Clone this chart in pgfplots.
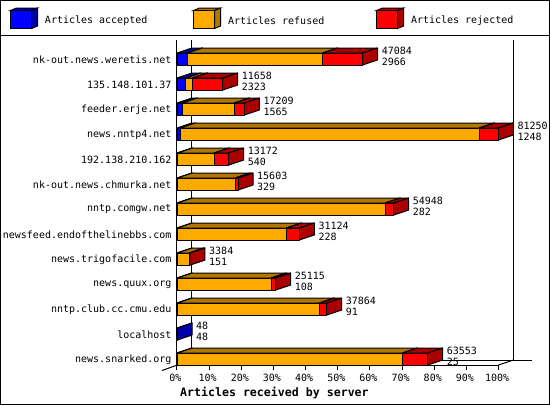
\documentclass[border=0pt]{standalone}
\usepackage{fontspec}
\setmainfont{DejaVu Sans Mono}
\usepackage{pgfplots}
\usepackage{pgfplotstable}
\pgfplotsset{compat=1.18}
\definecolor{cB}{HTML}{0000FF}\definecolor{cBd}{HTML}{0000AA}
\definecolor{cO}{HTML}{FFAA00}\definecolor{cOd}{HTML}{B27700}
\definecolor{cR}{HTML}{FF0000}\definecolor{cRd}{HTML}{AA0000}
% shares of the axis, in percent: accepted, refused, rejected
\pgfplotstableread{
r a b c
0 3.2 42.1 12.4
1 2.7 2.06 9.45
2 1.65 16.17 3.11
3 1.03 92.97 5.9
4 0.2 11.4 4.48
5 0.1 18.03 0.84
6 0.05 64.72 2.61
7 0.05 33.94 4.04
8 0.05 3.77 0.22
9 0.05 29.27 1.37
10 0.05 44.2 2.3
11 0.05 0 0
12 0.05 70.01 7.89
}\data
\newcommand{\seg}[5]{% row, x0, width, top colour, side colour
  \ifdim #3pt>0pt
  \pgfmathsetmacro{\xs}{#2}\pgfmathsetmacro{\xe}{#2+#3}
  \pgfmathsetmacro{\xsb}{\xs+4.664}\pgfmathsetmacro{\xeb}{\xe+4.664}
  \pgfmathsetmacro{\yt}{#1-0.24}\pgfmathsetmacro{\ytb}{#1-0.44}
  \pgfmathsetmacro{\yb}{#1+0.24}\pgfmathsetmacro{\ybb}{#1+0.04}
  \addplot[draw=black,line width=1pt,fill=#4,line join=round] coordinates {(\xs,\yt) (\xe,\yt) (\xeb,\ytb) (\xsb,\ytb)} -- cycle;
  \addplot[draw=black,line width=1pt,fill=#5,line join=round] coordinates {(\xe,\yt) (\xeb,\ytb) (\xeb,\ybb) (\xe,\yb)} -- cycle;
  \fi}
\pgfplotsset{base/.style={
  scale only axis, width=321.6pt, height=325pt,
  xmin=0, xmax=100, ymin=-0.76, ymax=12.24, y dir=reverse,
  clip=false, anchor=south west, at={(177pt,-365pt)}}}
\newcommand{\lab}[3]{\node[anchor=west,inner sep=0pt,yshift=-0.7pt,font=\fontsize{10}{10}\selectfont] at (#1,#2) {#3};}
\newcommand{\lbox}[4]{% x, front, dark
  \filldraw[fill=#3,line width=1pt] (#1,10.5) -- (#1+6,8) -- (#1+27,8) -- (#1+21,10.5) -- cycle;
  \filldraw[fill=#3,line width=1pt] (#1+21,10.5) -- (#1+27,8) -- (#1+27,26) -- (#1+21,28.5) -- cycle;
  \filldraw[fill=#2,line width=1pt] (#1,10.5) rectangle (#1+21,28.5);
  \node[anchor=west,inner sep=0pt,font=\fontsize{10}{10}\selectfont] at (#1+34.3,21) {#4};}
\begin{document}
\begin{tikzpicture}
\begin{scope}[x=1pt,y=-1pt]
\fill[white] (0,0) rectangle (550,405);
\draw[line width=1pt] (0.5,0.5) rectangle (549.5,404.5);
\draw[line width=1pt] (0,35) -- (550,35);
\lbox{10.5}{cB}{cBd}{Articles accepted}
\lbox{193.5}{cO}{cOd}{Articles refused}
\lbox{376.5}{cR}{cRd}{Articles rejected}
% back wall and floor
\draw[line width=1pt] (191.5,40) -- (191.5,360) -- (532,360);
\draw[line width=1pt] (513.5,40) -- (513.5,360);
\draw[line width=1pt] (162,370.5) -- (191.5,360);
\draw[line width=1pt] (498.5,365) -- (513.5,360);
\end{scope}
\begin{axis}[base,
  axis x line=bottom, axis y line=left,
  axis line style={line width=1pt,-},
  xtick={0,10,...,100},
  xticklabels={0\%,10\%,20\%,30\%,40\%,50\%,60\%,70\%,80\%,90\%,100\%},
  ytick={0,...,12},
  yticklabels={nk-out.news.weretis.net,135.148.101.37,feeder.erje.net,news.nntp4.net,192.138.210.162,nk-out.news.chmurka.net,nntp.comgw.net,newsfeed.endofthelinebbs.com,news.trigofacile.com,news.quux.org,nntp.club.cc.cmu.edu,localhost,news.snarked.org},
  tick align=outside, major tick length=5pt,
  xtick style={line width=1pt,black},
  ytick style={draw=none},
  tick label style={font=\fontsize{10}{10}\selectfont},
  xticklabel style={xshift=-1.5pt,yshift=-1pt},
  yticklabel style={xshift=3pt,yshift=-0.5pt},
  xlabel={\textbf{Articles received by server}},
  xlabel style={at={(axis cs:30.3,13.34)},anchor=center,inner sep=0pt,font=\fontsize{11.6}{12}\selectfont},
]
\pgfplotsforeachungrouped \r in {0,...,12}{%
  \pgfplotstablegetelem{\r}{a}\of\data\let\va\pgfplotsretval
  \pgfplotstablegetelem{\r}{b}\of\data\let\vb\pgfplotsretval
  \pgfplotstablegetelem{\r}{c}\of\data\let\vc\pgfplotsretval
  \pgfmathsetmacro{\sb}{\va}\pgfmathsetmacro{\sc}{\va+\vb}%
  \seg{\r}{0}{\va}{cBd}{cBd}%
  \seg{\r}{\sb}{\vb}{cOd}{cOd}%
  \seg{\r}{\sc}{\vc}{cRd}{cRd}%
}
\end{axis}
\begin{axis}[base, hide axis, xbar stacked, bar width=12pt]
\addplot[draw=black,line width=1pt,fill=cB] table[x=a,y=r]{\data};
\addplot[draw=black,line width=1pt,fill=cO] table[x=b,y=r]{\data};
\addplot[draw=black,line width=1pt,fill=cR] table[x=c,y=r]{\data};
\end{axis}
\begin{scope}[x=1pt,y=-1pt]
\lab{381.7}{50}{47084}\lab{381.7}{61}{2966}
\lab{241.7}{75}{11658}\lab{241.7}{86}{2323}
\lab{263.3}{100}{17209}\lab{263.3}{111}{1565}
\lab{517.3}{125}{81250}\lab{517.3}{136}{1248}
\lab{247.7}{150}{13172}\lab{247.7}{161}{540}
\lab{257}{175}{15603}\lab{257}{186}{329}
\lab{412.7}{200}{54948}\lab{412.7}{211}{282}
\lab{318.3}{225}{31124}\lab{318.3}{236}{228}
\lab{209}{250}{3384}\lab{209}{261}{151}
\lab{294.7}{275}{25115}\lab{294.7}{286}{108}
\lab{345.7}{300}{37864}\lab{345.7}{311}{91}
\lab{196}{325}{48}\lab{196}{336}{48}
\lab{446.7}{350}{63553}\lab{446.7}{361}{25}
\pgfresetboundingbox
\path[use as bounding box] (0,0) rectangle (550,405);
\end{scope}
\end{tikzpicture}
\end{document}
